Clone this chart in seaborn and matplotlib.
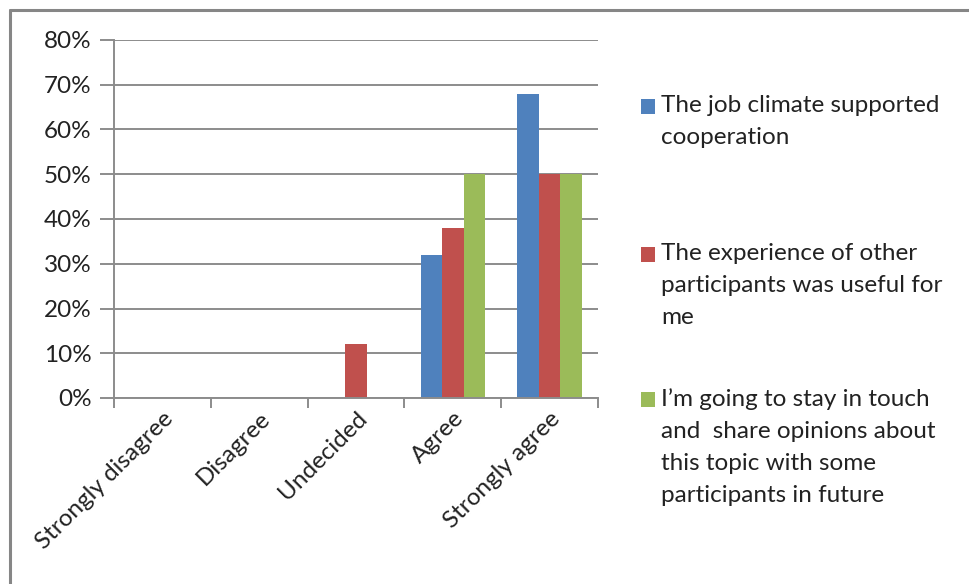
import matplotlib
matplotlib.use("Agg")
import matplotlib.pyplot as plt
from matplotlib.patches import Rectangle
from matplotlib.lines import Line2D
from matplotlib.ticker import PercentFormatter, FixedLocator, NullFormatter
import seaborn as sns
import pandas as pd

# Survey answers (share of participants, %)
categories = ["Strongly disagree", "Disagree", "Undecided", "Agree", "Strongly agree"]
series_names = [
    "The job climate supported\ncooperation",
    "The experience of other\nparticipants was useful for\nme",
    "I\u2019m going to stay in touch\nand  share opinions about\nthis topic with some\nparticipants in future",
]
job_climate = [0, 0, 0, 32, 68]
experience_useful = [0, 0, 12, 38, 50]
stay_in_touch = [0, 0, 0, 50, 50]
y_ticks = [0, 10, 20, 30, 40, 50, 60, 70, 80]
colors = ["#4F81BD", "#C0504D", "#9BBB59"]

rows = []
for name, vals in zip(series_names, [job_climate, experience_useful, stay_in_touch]):
    for cat, v in zip(categories, vals):
        rows.append({"category": cat, "series": name, "value": v})
df = pd.DataFrame(rows)

sns.set_style("white")
plt.rcParams["font.family"] = ["Lato", "DejaVu Sans"]
FS = 17.5
grid_col = "#8C8C8C"
text_col = "#222222"

fig = plt.figure(figsize=(9.70, 5.84), dpi=100)
ax = fig.add_axes([114 / 970, 1 - 398 / 584, (598 - 114) / 970, (398 - 40) / 584])

sns.barplot(data=df, x="category", y="value", hue="series", order=categories,
            hue_order=series_names, palette=colors, width=3 / 4.5, saturation=1,
            edgecolor="none", linewidth=0, legend=False, ax=ax)

ax.set_xlim(-0.5, len(categories) - 0.5)
ax.set_ylim(0, 80)
ax.set_yticks(y_ticks)
ax.yaxis.set_major_formatter(PercentFormatter(decimals=0))
ax.set_axisbelow(True)
ax.grid(axis="y", color=grid_col, linewidth=1.4)
ax.grid(axis="x", visible=False)
ax.set_xlabel("")
ax.set_ylabel("")

for side in ["top", "right"]:
    ax.spines[side].set_visible(False)
for side in ["left", "bottom"]:
    ax.spines[side].set_color(grid_col)
    ax.spines[side].set_linewidth(1.4)

ax.tick_params(axis="y", which="major", direction="out", length=10, width=1.4,
               color=grid_col, labelsize=FS, pad=6, labelcolor=text_col, left=True)
# category boundaries get the tick marks, centers carry the labels
ax.xaxis.set_minor_locator(FixedLocator([i - 0.5 for i in range(len(categories) + 1)]))
ax.xaxis.set_minor_formatter(NullFormatter())
ax.tick_params(axis="x", which="minor", direction="out", length=7, width=1.4,
               color=grid_col, bottom=True)
ax.tick_params(axis="x", which="major", length=0, pad=7)
for lbl in ax.get_xticklabels():
    lbl.set_rotation(45)
    lbl.set_ha("right")
    lbl.set_rotation_mode("anchor")
    lbl.set_fontsize(FS)
    lbl.set_color(text_col)

# legend: swatch and wrapped label per series
swatch_tops = [99, 247, 392]
text_tops = [95, 243, 388]
for name, col, sy, ty in zip(series_names, colors, swatch_tops, text_tops):
    fig.patches.append(Rectangle((641 / 970, 1 - (sy + 15) / 584), 14 / 970, 15 / 584,
                                 transform=fig.transFigure, facecolor=col,
                                 edgecolor="none"))
    fig.text(661 / 970, 1 - ty / 584, name, fontsize=FS, va="top", ha="left",
             color=text_col, linespacing=1.65)

# chart-area frame
fig.add_artist(Line2D([10 / 970, 10 / 970], [0, 1 - 10 / 584], transform=fig.transFigure,
                      color="#868686", linewidth=2.2))
fig.add_artist(Line2D([10 / 970, 1], [1 - 10 / 584, 1 - 10 / 584], transform=fig.transFigure,
                      color="#868686", linewidth=2.2))

fig.savefig("out.png", dpi=100, facecolor="white")
